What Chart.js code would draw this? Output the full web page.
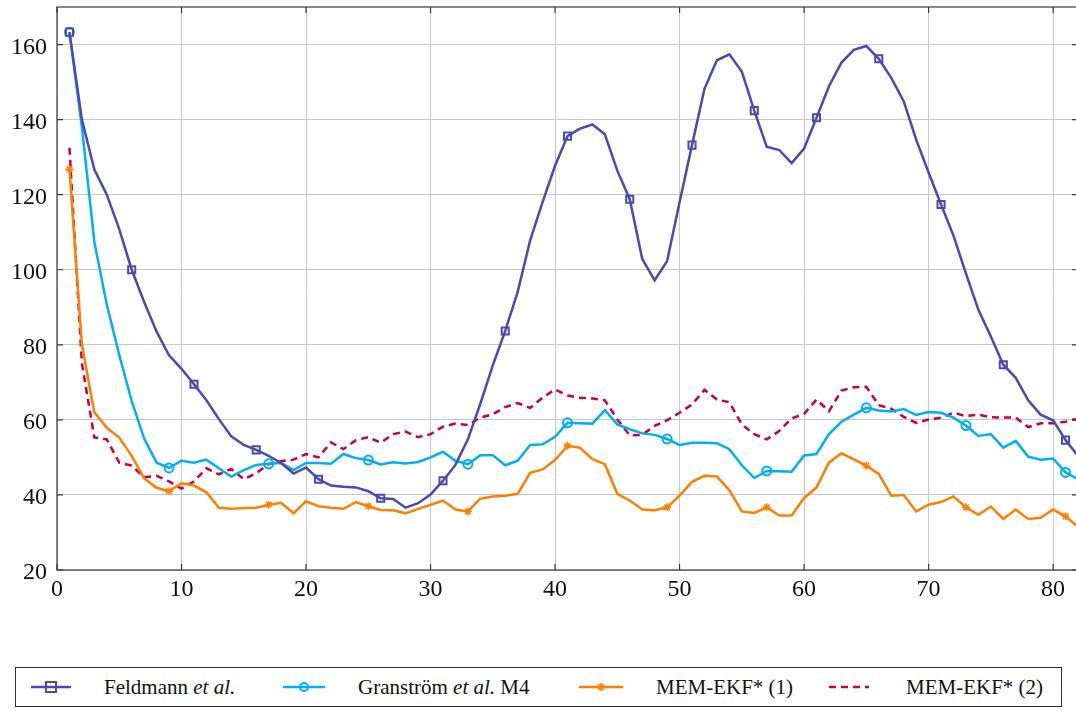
<!DOCTYPE html>
<html>
<head>
<meta charset="utf-8">
<script src="https://cdn.jsdelivr.net/npm/chart.js@4"></script>
<style>
  body { margin: 0; background: #fff; overflow: hidden; width: 1076px; height: 711px; position: relative; }
  #chart { position: absolute; left: 0; top: 0; }
  .tick { position: absolute; font-family: 'Liberation Serif', 'Times New Roman', serif; font-size: 24px;
          line-height: 24px; height: 24px; color: #111; white-space: nowrap; }
  .legend { position: absolute; left: 15px; top: 667px; width: 1045px; height: 38px; border: 1px solid #333;
            font-family: 'Liberation Serif', 'Times New Roman', serif; font-size: 21px; color: #111; }
  .legend svg { position: absolute; top: 0; }
  .legend span { position: absolute; top: 7px; white-space: nowrap; }
</style>
</head>
<body>
<canvas id="chart" width="1100" height="620" style="width:1100px;height:620px"></canvas>
<div id="labels"></div>

<div class="legend">
  <svg style="left:14px" width="42" height="38"><line x1="1" y1="19" x2="41" y2="19" stroke="#4a4ab3" stroke-width="2.5"/><rect x="16" y="14" width="10" height="10" fill="none" stroke="#4a4ab3" stroke-width="2"/></svg>
  <span style="left:88px">Feldmann <i>et al.</i></span>
  <svg style="left:266px" width="44" height="38"><line x1="1" y1="19" x2="43" y2="19" stroke="#00b0f0" stroke-width="2.5"/><circle cx="22" cy="19" r="4" fill="none" stroke="#00b0f0" stroke-width="2"/></svg>
  <span style="left:342px">Granström <i>et al.</i> M4</span>
  <svg style="left:562px" width="46" height="38"><line x1="1" y1="19" x2="45" y2="19" stroke="#ff8000" stroke-width="2.5"/><path d="M23 15v8M19 19h8M20 16l6 6M26 16l-6 6" stroke="#ff8000" stroke-width="1.5"/></svg>
  <span style="left:640px">MEM-EKF* (1)</span>
  <svg style="left:812px" width="42" height="38"><line x1="1" y1="19" x2="41" y2="19" stroke="#c4004f" stroke-width="2.5" stroke-dasharray="7 5"/></svg>
  <span style="left:890px">MEM-EKF* (2)</span>
</div>

<script>
// x positions 1..82
const steps = Array.from({ length: 82 }, (_, i) => i + 1);

const feldmann = [163.3, 140, 126.7, 120, 110.8, 100, 91.4, 83.5, 77.2, 73.6,
  69.5, 65.2, 60.2, 55.6, 53.3, 52.0, 50.4, 48.5, 45.7, 47.3,
  44.2, 42.5, 42.2, 42.0, 41.0, 39.1, 38.9, 36.6, 37.8, 40.1,
  43.8, 48.0, 54.8, 64.3, 74.5, 83.7, 94.1, 107.8, 118.0, 127.7,
  135.6, 137.6, 138.7, 136.1, 126.4, 118.8, 102.9, 97.2, 102.3, 118.0,
  133.2, 148.2, 155.8, 157.4, 152.8, 142.4, 132.8, 131.9, 128.4, 132.3,
  140.5, 148.9, 155.2, 158.6, 159.6, 156.2, 151.1, 144.9, 134.7, 125.9,
  117.4, 109.1, 99.0, 89.3, 82.2, 74.7, 71.2, 65.2, 61.4, 59.9,
  54.6, 50.4];

const granstrom = [163.3, 138, 107.4, 90.7, 77.3, 65, 55, 48.6, 47.2, 49.1,
  48.6, 49.4, 47.1, 44.9, 46.6, 48.0, 48.3, 48.5, 46.6, 48.5,
  48.5, 48.3, 50.9, 49.8, 49.3, 48.1, 48.7, 48.4, 48.8, 50.0,
  51.5, 49.1, 48.2, 50.6, 50.6, 47.9, 49.1, 53.3, 53.5, 55.5,
  59.2, 59.1, 59.0, 62.6, 58.8, 57.5, 56.4, 56.0, 54.9, 53.3,
  53.9, 53.9, 53.8, 52.2, 47.9, 44.5, 46.4, 46.3, 46.2, 50.5,
  50.9, 56.2, 59.5, 61.4, 63.2, 62.5, 62.2, 62.9, 61.3, 62.1,
  61.9, 60.6, 58.5, 55.7, 56.2, 52.6, 54.4, 50.2, 49.4, 49.7,
  46.0, 44.2];

const memEkf1 = [126.8, 80, 62.0, 57.9, 55.3, 50.4, 44.4, 41.9, 41.0, 43.1,
  42.5, 40.7, 36.6, 36.3, 36.5, 36.6, 37.4, 37.9, 35.1, 38.3,
  37.0, 36.6, 36.3, 38.1, 37.0, 36.0, 35.9, 35.1, 36.3, 37.4,
  38.5, 36.1, 35.6, 39.0, 39.6, 39.8, 40.3, 45.9, 46.8, 49.3,
  53.1, 52.6, 49.5, 48.2, 40.3, 38.5, 36.1, 35.9, 36.7, 39.8,
  43.5, 45.1, 44.9, 41.3, 35.6, 35.2, 36.7, 34.5, 34.5, 39.2,
  42.0, 48.6, 51.1, 49.5, 47.8, 45.6, 39.8, 40.0, 35.6, 37.4,
  38.1, 39.6, 36.7, 34.7, 36.9, 33.6, 36.1, 33.6, 33.9, 36.1,
  34.3, 31.5];

const memEkf2 = [132.5, 75, 55.3, 54.8, 48.6, 47.8, 44.7, 45.1, 43.6, 41.7,
  43.6, 47.1, 45.5, 46.9, 44.2, 45.8, 48.2, 49.0, 49.4, 50.9,
  50.0, 54.0, 52.2, 54.6, 55.4, 53.9, 56.2, 56.9, 55.4, 56.2,
  58.2, 59.0, 58.6, 60.6, 61.5, 63.4, 64.5, 63.2, 65.9, 68.1,
  66.5, 65.9, 65.7, 65.2, 60.1, 55.9, 56.0, 58.4, 59.9, 61.9,
  64.1, 68.0, 65.4, 64.7, 58.8, 56.2, 54.8, 57.0, 60.4, 61.6,
  65.4, 62.3, 67.8, 68.7, 68.8, 63.9, 63.0, 60.8, 59.2, 60.1,
  60.6, 61.9, 61.0, 61.4, 60.7, 60.6, 60.6, 58.1, 59.1, 59.1,
  59.5, 60.4];

const xTicks = [0, 10, 20, 30, 40, 50, 60, 70, 80];
const yTicks = [20, 40, 60, 80, 100, 120, 140, 160];

function toPoints(values) {
  return values.map((v, i) => ({ x: steps[i], y: v }));
}

// marker every n-th sample, starting at the first one
function markEvery(n, r) {
  return (ctx) => (ctx.index % n === 0 ? r : 0);
}

// pgfplots style frame with inner ticks
const framePlugin = {
  id: "frame",
  afterDraw(chart) {
    const ctx = chart.ctx;
    const a = chart.chartArea;
    const xs = chart.scales.x;
    const ys = chart.scales.y;
    ctx.save();
    ctx.strokeStyle = "#3a3a3a";
    ctx.lineWidth = 1.2;
    ctx.beginPath();
    xTicks.forEach((v) => {
      const px = xs.getPixelForValue(v);
      ctx.moveTo(px, a.bottom); ctx.lineTo(px, a.bottom - 6);
      ctx.moveTo(px, a.top); ctx.lineTo(px, a.top + 6);
    });
    yTicks.forEach((v) => {
      const py = ys.getPixelForValue(v);
      ctx.moveTo(a.left, py); ctx.lineTo(a.left + 6, py);
      ctx.moveTo(a.right, py); ctx.lineTo(a.right - 6, py);
    });
    ctx.stroke();
    ctx.strokeRect(a.left, a.top, a.right - a.left, a.bottom - a.top);
    ctx.restore();
  },
};

const chart = new Chart("chart", {
  type: "line",
  data: {
    datasets: [
      {
        label: "Feldmann et al.",
        data: toPoints(feldmann),
        borderColor: "#4a4ab3",
        backgroundColor: "transparent",
        borderWidth: 2.5,
        pointStyle: "rect",
        pointRadius: markEvery(5, 5),
        pointBorderWidth: 2,
        pointBorderColor: "#4a4ab3",
        pointBackgroundColor: "transparent",
      },
      {
        label: "Granström et al. M4",
        data: toPoints(granstrom),
        borderColor: "#00b0f0",
        backgroundColor: "transparent",
        borderWidth: 2.5,
        pointStyle: "circle",
        pointRadius: markEvery(8, 4.5),
        pointBorderWidth: 2,
        pointBorderColor: "#00b0f0",
        pointBackgroundColor: "transparent",
      },
      {
        label: "MEM-EKF* (1)",
        data: toPoints(memEkf1),
        borderColor: "#ff8000",
        backgroundColor: "transparent",
        borderWidth: 2.5,
        pointStyle: "star",
        pointRadius: markEvery(8, 4),
        pointBorderWidth: 1.5,
        pointBorderColor: "#ff8000",
      },
      {
        label: "MEM-EKF* (2)",
        data: toPoints(memEkf2),
        borderColor: "#c4004f",
        backgroundColor: "transparent",
        borderWidth: 2.5,
        borderDash: [7, 5],
        pointRadius: 0,
      },
    ],
  },
  options: {
    responsive: false,
    animation: false,
    devicePixelRatio: 1,
    layout: { padding: { top: 4, right: 22, left: 0, bottom: 0 } },
    elements: { line: { tension: 0 } },
    plugins: { legend: { display: false }, tooltip: { enabled: false } },
    scales: {
      x: {
        type: "linear",
        min: 0,
        max: 82,
        afterBuildTicks: (s) => { s.ticks = xTicks.map((v) => ({ value: v })); },
        afterFit: (s) => { s.height = 50; s.paddingLeft = 0; s.paddingRight = 0; },
        grid: { color: "#c8c8c8", lineWidth: 1, drawTicks: false },
        border: { display: false },
        ticks: { display: false },
      },
      y: {
        min: 20,
        max: 170,
        afterBuildTicks: (s) => { s.ticks = yTicks.map((v) => ({ value: v })); },
        afterFit: (s) => { s.width = 57; s.paddingTop = 0; s.paddingBottom = 0; },
        grid: { color: "#c8c8c8", lineWidth: 1, drawTicks: false },
        border: { display: false },
        ticks: { display: false },
      },
    },
  },
  plugins: [framePlugin],
});

// tick labels as text, placed from the chart's own scales
const labelBox = document.getElementById("labels");
const area = chart.chartArea;

xTicks.forEach((v) => {
  const el = document.createElement("div");
  el.className = "tick";
  el.textContent = v;
  el.style.left = (chart.scales.x.getPixelForValue(v) - 30) + "px";
  el.style.width = "60px";
  el.style.textAlign = "center";
  el.style.top = (area.bottom + 6) + "px";
  labelBox.appendChild(el);
});

yTicks.forEach((v) => {
  const el = document.createElement("div");
  el.className = "tick";
  el.textContent = v;
  el.style.left = "0px";
  el.style.width = (area.left - 10) + "px";
  el.style.textAlign = "right";
  el.style.top = (chart.scales.y.getPixelForValue(v) - 11) + "px";
  labelBox.appendChild(el);
});
</script>
</body>
</html>
